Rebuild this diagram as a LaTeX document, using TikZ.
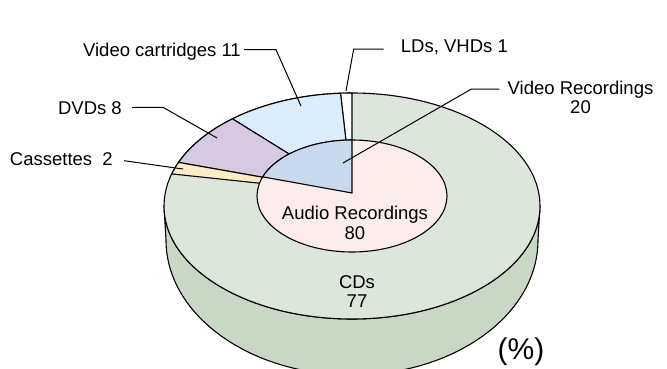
\documentclass[tikz,border=0pt]{standalone}
\usepackage{fontspec}
\setmainfont{Liberation Sans}
\usetikzlibrary{calc}
\definecolor{cdtop}{RGB}{221,230,218}
\definecolor{cdside}{RGB}{200,216,196}
\definecolor{cassette}{RGB}{254,236,197}
\definecolor{dvd}{RGB}{214,201,225}
\definecolor{vcart}{RGB}{219,237,251}
\definecolor{videorec}{RGB}{201,217,238}
\definecolor{audiorec}{RGB}{253,236,236}
\begin{document}
\begin{tikzpicture}[
    x=1pt, y=1pt,
    lbl/.style={font=\fontsize{18.5}{19.5}\selectfont, inner sep=0pt,
                text depth=0pt, align=center},
    leader/.style={draw, line width=1pt},
    slice/.style={draw, line width=1.1pt, line join=round}
  ]
  \useasboundingbox (0,0) rectangle (667,368);
  \coordinate (top) at (352,162);
  \coordinate (bot) at (352,128);
  \coordinate (mid) at (352,172);
  \coordinate (apex) at (352,175);

  \path[slice, fill=cdside] ($(top)+(188,0)$) -- ($(bot)+(186,0)$)
    arc[start angle=0, end angle=-180, x radius=186, y radius=135]
    -- ($(top)+(-188,0)$)
    arc[start angle=180, end angle=360, x radius=188, y radius=113] -- cycle;
  \path[slice, fill=cdtop] (top) ellipse[x radius=188, y radius=113];

  \path[slice, fill=white] (apex) -- ($(top)+(90:188 and 113)$)
    arc[start angle=90, end angle=93.5, x radius=188, y radius=113] -- cycle;
  \path[slice, fill=vcart] (apex) -- ($(top)+(93.5:188 and 113)$)
    arc[start angle=93.5, end angle=129.5, x radius=188, y radius=113] -- cycle;
  \path[slice, fill=dvd] (apex) -- ($(top)+(129.5:188 and 113)$)
    arc[start angle=129.5, end angle=157.3, x radius=188, y radius=113] -- cycle;
  \path[slice, fill=cassette] (apex) -- ($(top)+(157.3:188 and 113)$)
    arc[start angle=157.3, end angle=163.5, x radius=188, y radius=113] -- cycle;

  \path[slice, fill=audiorec] (mid) ellipse[x radius=95, y radius=56];
  \path[slice, fill=videorec] (apex) -- ($(mid)+(90:95 and 56)$)
    arc[start angle=90, end angle=160, x radius=95, y radius=56] -- cycle;

  \coordinate (vcpt) at (301,262);
  \coordinate (dvdpt) at (217,230);
  \coordinate (caspt) at (183,199);
  \coordinate (ldpt) at (346,277);
  \coordinate (vrpt) at (343,205);

  \node[lbl, anchor=east] (vclbl) at (241,318.3) {Video cartridges 11};
  \node[lbl, anchor=east] (dvdlbl) at (122,259.7) {DVDs 8};
  \node[lbl, anchor=east] (caslbl) at (113,209.3) {Cassettes\ \ 2};
  \node[lbl, anchor=west] (ldlbl) at (400.7,322) {LDs, VHDs 1};
  \node[lbl] (vrlbl) at (580.5,270.5) {Video Recordings\\20};
  \node[lbl] (arlbl) at (355,145) {Audio Recordings\\80};
  \node[lbl] (cdlbl) at (357,76.7) {CDs\\77};
  \node[lbl, font=\fontsize{30}{32}\selectfont] (unit) at (521,19) {(\%)};

  \draw[leader] (vclbl.east) ++(3,0) -- ++(32,0) -- (vcpt);
  \draw[leader] (dvdlbl.east) ++(10,1) -- ++(31,0) -- (dvdpt);
  \draw[leader] (caslbl.east) ++(11,-2) -- (caspt);
  \draw[leader] (ldlbl.west) ++(-17,-3) -- ++(-30,0) -- (ldpt);
  \draw[leader] (vrlbl.west) ++(-8,8.5) -- ++(-28,0) -- (vrpt);
\end{tikzpicture}
\end{document}
